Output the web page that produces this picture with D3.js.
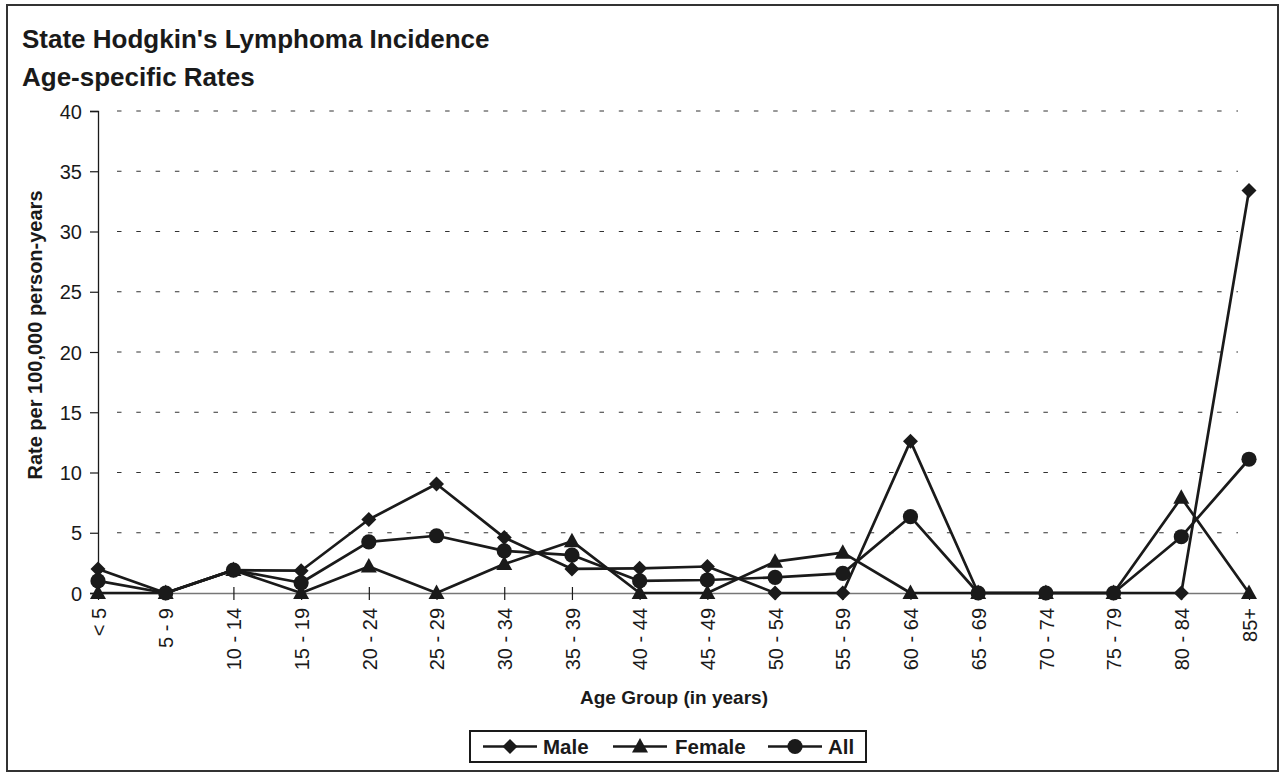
<!DOCTYPE html>
<html><head><meta charset="utf-8">
<script src="https://cdn.jsdelivr.net/npm/d3@7"></script>
<style>
html,body{margin:0;padding:0;background:#fff;}
text{font-family:"Liberation Sans",Arial,sans-serif;fill:#1a1a1a;}
</style></head>
<body>
<svg id="chart" width="1282" height="773"></svg>
<script>
const categories = ["< 5","5 - 9","10 - 14","15 - 19","20 - 24","25 - 29","30 - 34","35 - 39","40 - 44","45 - 49","50 - 54","55 - 59","60 - 64","65 - 69","70 - 74","75 - 79","80 - 84","85+"];
const maleValues   = [2.0, 0, 1.9, 1.85, 6.1, 9.05, 4.6, 2.0, 2.05, 2.2, 0, 0, 12.6, 0, 0, 0, 0, 33.4];
const femaleValues = [0, 0, 1.9, 0, 2.2, 0, 2.4, 4.3, 0, 0, 2.6, 3.35, 0, 0, 0, 0, 7.9, 0];
const allValues    = [1.0, 0, 1.9, 0.85, 4.25, 4.75, 3.5, 3.15, 1.0, 1.08, 1.3, 1.63, 6.33, 0, 0, 0, 4.67, 11.1];
const yTicks = [0,5,10,15,20,25,30,35,40];
const titleLines = ["State Hodgkin's Lymphoma Incidence","Age-specific Rates"];

const series = [
  {name:"Male", values:maleValues, marker:"diamond"},
  {name:"Female", values:femaleValues, marker:"triangle"},
  {name:"All", values:allValues, marker:"circle"}
];

const svg = d3.select("#chart");
const ink = "#1a1a1a";
const FONT = "Liberation Sans, Arial, sans-serif";

// outer frame
svg.append("rect").attr("x",7).attr("y",5).attr("width",1271).attr("height",766)
  .attr("fill","#fff").attr("stroke","#333").attr("stroke-width",2);

// title
svg.selectAll("text.title").data(titleLines).join("text")
  .attr("class","title").attr("x",22).attr("y",(d,i)=>48+i*38)
  .style("font-size","26px").style("font-weight","bold").text(d=>d);

const x = d3.scalePoint().domain(categories).range([98,1249]);
const y = d3.scaleLinear().domain([0,40]).range([593,111]);

// gridlines
svg.append("g").selectAll("line").data(yTicks.filter(d=>d>0)).join("line")
  .attr("x1",117).attr("x2",1238).attr("y1",d=>y(d)).attr("y2",d=>y(d))
  .attr("stroke","#333").attr("stroke-width",1).attr("stroke-dasharray","4.5,14.8");

// y axis
const yAxis = svg.append("g").attr("transform","translate(98,0)")
  .call(d3.axisLeft(y).tickValues(yTicks).tickSize(8).tickPadding(8));
yAxis.select(".domain").attr("stroke",ink).attr("stroke-width",1.3);
yAxis.selectAll(".tick line").attr("stroke",ink).attr("stroke-width",1.2);
yAxis.selectAll(".tick text").style("font-size","20px").style("font-family",FONT).attr("fill",ink).attr("dy","0.36em");

// x axis
const xAxis = svg.append("g").attr("transform","translate(0,593)")
  .call(d3.axisBottom(x).tickSizeInner(7).tickSizeOuter(0).tickPadding(10));
xAxis.select(".domain").attr("stroke","#777").attr("stroke-width",1.5);
xAxis.selectAll(".tick line").attr("stroke",ink).attr("stroke-width",1.2).attr("y1",-6);
xAxis.selectAll(".tick text")
  .style("font-size","20px").style("font-family",FONT).attr("fill",ink)
  .attr("transform","rotate(-90)").attr("text-anchor","end")
  .attr("x",-15).attr("y",0).attr("dy","0.36em");

// axis titles
svg.append("text").attr("x",674).attr("y",704).attr("text-anchor","middle")
  .style("font-size","19px").style("font-weight","bold").text("Age Group (in years)");
svg.append("text").attr("transform","translate(42,335) rotate(-90)").attr("text-anchor","middle")
  .style("font-size","20px").style("font-weight","bold").text("Rate per 100,000 person-years");

// marker helper
function drawMarker(g, type, cx, cy){
  if(type==="diamond"){
    g.append("path").attr("d",`M${cx},${cy-7.5}L${cx+7.5},${cy}L${cx},${cy+7.5}L${cx-7.5},${cy}Z`).attr("fill",ink);
  } else if(type==="triangle"){
    g.append("path").attr("d",`M${cx},${cy-8.5}L${cx+8},${cy+6}L${cx-8},${cy+6}Z`).attr("fill",ink);
  } else {
    g.append("circle").attr("cx",cx).attr("cy",cy).attr("r",7.6).attr("fill",ink);
  }
}

const line = d3.line().x((d,i)=>x(categories[i])).y(d=>y(d));
const plot = svg.append("g");
series.forEach(s=>{
  plot.append("path").datum(s.values).attr("d",line)
    .attr("fill","none").attr("stroke",ink).attr("stroke-width",2.7).attr("stroke-linejoin","round");
});
series.forEach(s=>{
  const g = plot.append("g");
  s.values.forEach((v,i)=>drawMarker(g, s.marker, x(categories[i]), y(v)));
});

// legend
const leg = svg.append("g");
leg.append("rect").attr("x",470).attr("y",731).attr("width",396).attr("height",31)
  .attr("fill","#fff").attr("stroke",ink).attr("stroke-width",2);
const legItems = [{s:series[0], x0:483, tx:543},{s:series[1], x0:613, tx:675},{s:series[2], x0:768, tx:828}];
legItems.forEach(it=>{
  const g = leg.append("g");
  g.append("line").attr("x1",it.x0).attr("x2",it.x0+54).attr("y1",746.5).attr("y2",746.5)
    .attr("stroke",ink).attr("stroke-width",2.4);
  drawMarker(g, it.s.marker, it.x0+27, 746.5);
  g.append("text").attr("x",it.tx).attr("y",754).style("font-size","20.5px").style("font-weight","bold").text(it.s.name);
});
</script>
</body></html>
